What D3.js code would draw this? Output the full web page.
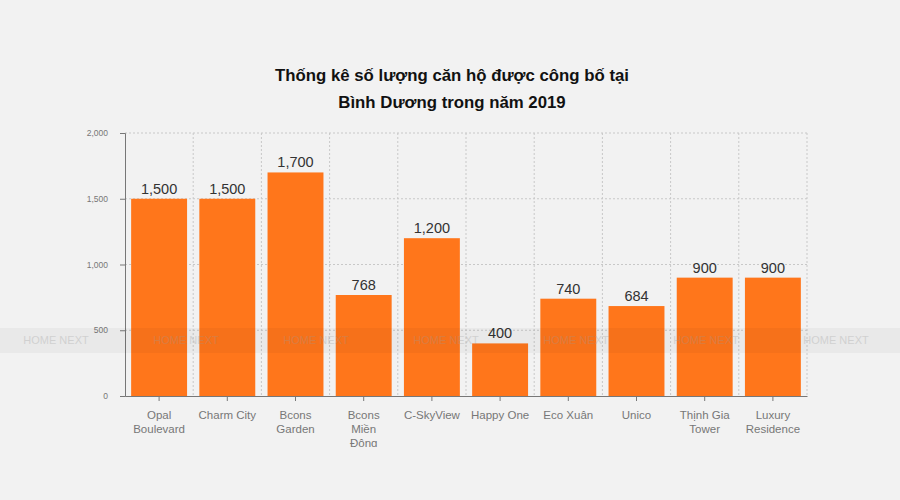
<!DOCTYPE html>
<html>
<head>
<meta charset="utf-8">
<script src="https://cdn.jsdelivr.net/npm/d3@7"></script>
<style>
  body { margin: 0; background: #f2f2f2; }
  svg { font-family: "Liberation Sans", Arial, sans-serif; }
</style>
</head>
<body>
<div id="chart"></div>
<script>
// Data
var categories = ["Opal Boulevard", "Charm City", "Bcons Garden", "Bcons Miền Đông", "C-SkyView",
                  "Happy One", "Eco Xuân", "Unico", "Thịnh Gia Tower", "Luxury Residence"];
var labelLines = [["Opal", "Boulevard"], ["Charm City"], ["Bcons", "Garden"], ["Bcons", "Miền", "Đông"],
                  ["C-SkyView"], ["Happy One"], ["Eco Xuân"], ["Unico"], ["Thịnh Gia", "Tower"], ["Luxury", "Residence"]];
var values = [1500, 1500, 1700, 768, 1200, 400, 740, 684, 900, 900];
var yTicks = [0, 500, 1000, 1500, 2000];
var titleLines = ["Thống kê số lượng căn hộ được công bố tại", "Bình Dương trong năm 2019"];

var margin = {top: 133, right: 93, bottom: 104, left: 125},
    width = 900 - margin.left - margin.right,
    height = 500 - margin.top - margin.bottom;

var root = d3.select("#chart").append("svg")
    .attr("width", 900)
    .attr("height", 500);

root.append("rect").attr("width", 900).attr("height", 500).attr("fill", "#f2f2f2");

// Title
root.append("text")
    .attr("x", 452)
    .attr("y", 81)
    .attr("text-anchor", "middle")
    .style("font-size", "16.8px")
    .style("font-weight", "bold")
    .attr("fill", "#111")
    .selectAll("tspan")
    .data(titleLines)
    .enter().append("tspan")
    .attr("x", 452)
    .attr("dy", function(d, i) { return i ? 27 : 0; })
    .text(function(d) { return d; });

root.append("clipPath").attr("id", "clip")
  .append("rect").attr("x", 0).attr("y", 0).attr("width", 900).attr("height", 447);

var svg = root.append("g")
    .attr("clip-path", "url(#clip)")
  .append("g")
    .attr("transform", "translate(" + margin.left + "," + margin.top + ")");

var x = d3.scaleBand()
    .domain(categories)
    .range([0, width])
    .paddingInner(0.18)
    .paddingOuter(0.09);
var y = d3.scaleLinear()
    .domain([0, 2000])
    .range([height, 0]);

var step = x.step();

// Grid lines (dotted)
svg.selectAll(".hgrid")
    .data(yTicks.slice(1))
  .enter().append("line")
    .attr("x1", 0).attr("x2", width)
    .attr("y1", function(d) { return y(d); })
    .attr("y2", function(d) { return y(d); })
    .attr("stroke", "#c8c8c8")
    .attr("stroke-dasharray", "2,2");

svg.selectAll(".vgrid")
    .data(d3.range(1, categories.length + 1))
  .enter().append("line")
    .attr("x1", function(d) { return d * step; })
    .attr("x2", function(d) { return d * step; })
    .attr("y1", 0).attr("y2", height)
    .attr("stroke", "#c8c8c8")
    .attr("stroke-dasharray", "2,2");

// Bars
svg.selectAll(".bar")
    .data(values)
  .enter().append("rect")
    .attr("x", function(d, i) { return x(categories[i]); })
    .attr("width", x.bandwidth())
    .attr("y", function(d) { return y(d); })
    .attr("height", function(d) { return height - y(d); })
    .attr("fill", "#ff761b");

// Value labels
svg.selectAll(".val")
    .data(values)
  .enter().append("text")
    .attr("x", function(d, i) { return x(categories[i]) + x.bandwidth() / 2; })
    .attr("y", function(d) { return y(d) - 5; })
    .attr("text-anchor", "middle")
    .style("font-size", "14.5px")
    .attr("fill", "#333")
    .text(function(d) { return d3.format(",")(d); });

// Y axis
var yAxis = svg.append("g")
    .call(d3.axisLeft(y).tickValues(yTicks).tickFormat(d3.format(",")).tickSize(5).tickPadding(12));
yAxis.select(".domain").attr("stroke", "#777");
yAxis.selectAll(".tick line").attr("stroke", "#777");
yAxis.selectAll("text").style("font-size", "8.5px").attr("fill", "#777");

// X axis
var xAxis = svg.append("g")
    .attr("transform", "translate(0," + height + ")")
    .call(d3.axisBottom(x).tickSizeInner(5).tickSizeOuter(0).tickFormat(""));
xAxis.select(".domain").attr("stroke", "#777");
xAxis.selectAll(".tick line").attr("stroke", "#777");

svg.selectAll(".xlab")
    .data(labelLines)
  .enter().append("text")
    .attr("y", height + 23)
    .attr("text-anchor", "middle")
    .style("font-size", "11.5px")
    .attr("fill", "#777")
    .each(function(lines, i) {
        var cx = x(categories[i]) + x.bandwidth() / 2;
        d3.select(this).selectAll("tspan")
            .data(lines)
          .enter().append("tspan")
            .attr("x", cx)
            .attr("dy", function(d, j) { return j ? 14 : 0; })
            .text(function(d) { return d; });
    });

// Watermark band
var wm = root.append("g");
wm.append("rect")
    .attr("x", 0).attr("y", 328).attr("width", 900).attr("height", 25)
    .attr("fill", "#000").attr("opacity", 0.035);
wm.selectAll("text")
    .data(d3.range(7))
  .enter().append("text")
    .attr("x", function(d) { return 56 + d * 130; })
    .attr("y", 344)
    .attr("text-anchor", "middle")
    .style("font-size", "11px")
    .attr("fill", "#999")
    .attr("opacity", 0.3)
    .text("HOME NEXT");
</script>
</body>
</html>
